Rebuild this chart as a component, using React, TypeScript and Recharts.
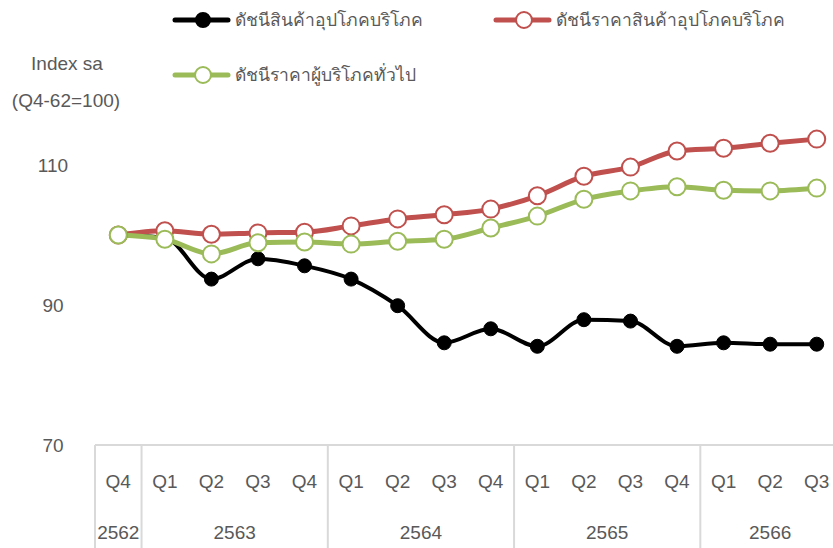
import React from 'react';
import { LineChart, Line, XAxis, YAxis } from 'recharts';

// quarter labels and the Buddhist-era year each one belongs to
const quarters = ['Q4', 'Q1', 'Q2', 'Q3', 'Q4', 'Q1', 'Q2', 'Q3', 'Q4', 'Q1', 'Q2', 'Q3', 'Q4', 'Q1', 'Q2', 'Q3'];
const years = ['2562', '2563', '2563', '2563', '2563', '2564', '2564', '2564', '2564', '2565', '2565', '2565', '2565', '2566', '2566', '2566'];

const consumerGoodsIndex = [100, 99.6, 93.7, 96.6, 95.6, 93.7, 89.9, 84.6, 86.6, 84.1, 87.9, 87.7, 84.1, 84.6, 84.4, 84.4];
const consumerGoodsPrice = [100, 100.6, 100.1, 100.3, 100.4, 101.3, 102.3, 102.9, 103.7, 105.6, 108.4, 109.7, 112.0, 112.4, 113.1, 113.7];
const generalCpi = [100, 99.4, 97.3, 98.9, 99.0, 98.7, 99.1, 99.4, 101.0, 102.7, 105.1, 106.3, 106.9, 106.4, 106.3, 106.7];

const seriesNames = ['ดัชนีสินค้าอุปโภคบริโภค', 'ดัชนีราคาสินค้าอุปโภคบริโภค', 'ดัชนีราคาผู้บริโภคทั่วไป'];
const yTicks = [70, 90, 110];

const data = quarters.map((q, i) => ({
  key: `${years[i]}-${q}`,
  idx: i,
  black: consumerGoodsIndex[i],
  red: consumerGoodsPrice[i],
  green: generalCpi[i],
}));

const FONT = 'Helvetica, Arial, "Liberation Sans", sans-serif';
const TEXT = '#595959';
const GRID = '#D9D9D9';
const PLOT_LEFT = 95;
const PLOT_WIDTH = 745;
const PLOT_BOTTOM = 445;
const STEP = PLOT_WIDTH / quarters.length;

const XTick = (props: any) => {
  const { x, payload } = props;
  const i = payload.index;
  const yr = years[i];
  const isStart = i === 0 || years[i - 1] !== yr;
  let count = 0;
  if (isStart) {
    while (years[i + count] === yr) count++;
  }
  return (
    <g>
      <text x={x} y={488} textAnchor="middle" fill={TEXT} fontSize={19} fontFamily={FONT}>
        {quarters[i]}
      </text>
      {isStart && (
        <>
          <line x1={x - STEP / 2} x2={x - STEP / 2} y1={PLOT_BOTTOM} y2={548} stroke={GRID} strokeWidth={2} />
          <text x={x + ((count - 1) * STEP) / 2} y={539} textAnchor="middle" fill={TEXT} fontSize={19} fontFamily={FONT}>
            {yr}
          </text>
        </>
      )}
    </g>
  );
};

const YTick = (props: any) => {
  const { y, payload } = props;
  return (
    <text x={53} y={y + 7} textAnchor="middle" fill={TEXT} fontSize={19} fontFamily={FONT}>
      {payload.value}
    </text>
  );
};

const legendItems = [
  { name: seriesNames[0], color: '#000000', filled: true, x: 175, y: 20 },
  { name: seriesNames[1], color: '#C0504D', filled: false, x: 496, y: 20 },
  { name: seriesNames[2], color: '#9BBB59', filled: false, x: 175, y: 75 },
];

export default function App() {
  return (
    <div style={{ position: 'absolute', left: 0, top: 0, width: 833, height: 548, overflow: 'hidden', background: '#fff' }}>
      <LineChart
        width={PLOT_LEFT + PLOT_WIDTH}
        height={548}
        data={data}
        margin={{ top: 25, right: 0, bottom: 0, left: 0 }}
      >
        <XAxis
          dataKey="idx"
          type="category"
          height={103}
          padding={{ left: STEP / 2, right: STEP / 2 }}
          axisLine={{ stroke: GRID, strokeWidth: 2 }}
          tickLine={false}
          interval={0}
          tick={<XTick />}
        />
        <YAxis
          domain={[70, 130]}
          ticks={yTicks}
          width={PLOT_LEFT}
          axisLine={false}
          tickLine={false}
          tick={<YTick />}
        />
        <Line
          dataKey="black"
          type="monotone"
          stroke="#000000"
          strokeWidth={4}
          dot={{ r: 7, fill: '#000', stroke: '#000', strokeWidth: 1 }}
          isAnimationActive={false}
        />
        <Line
          dataKey="red"
          type="monotone"
          stroke="#C0504D"
          strokeWidth={5}
          dot={{ r: 8.5, fill: '#fff', stroke: '#C0504D', strokeWidth: 2 }}
          isAnimationActive={false}
        />
        <Line
          dataKey="green"
          type="monotone"
          stroke="#9BBB59"
          strokeWidth={5}
          dot={{ r: 8.5, fill: '#fff', stroke: '#9BBB59', strokeWidth: 2 }}
          isAnimationActive={false}
        />
      </LineChart>
      <svg width={833} height={120} style={{ position: 'absolute', left: 0, top: 0, pointerEvents: 'none' }}>
        {legendItems.map((it) => (
          <g key={it.name}>
            <line x1={it.x} x2={it.x + 53} y1={it.y} y2={it.y} stroke={it.color} strokeWidth={5} strokeLinecap="round" />
            <circle
              cx={it.x + 28}
              cy={it.y}
              r={it.filled ? 7 : 8}
              fill={it.filled ? it.color : '#fff'}
              stroke={it.color}
              strokeWidth={2}
            />
            <text x={it.x + 60} y={it.y + 6} fill={TEXT} fontSize={17.5} fontFamily={FONT}>
              {it.name}
            </text>
          </g>
        ))}
        <text x={67} y={70} textAnchor="middle" fill={TEXT} fontSize={19} fontFamily={FONT}>
          Index sa
        </text>
        <text x={66} y={107} textAnchor="middle" fill={TEXT} fontSize={19} fontFamily={FONT}>
          (Q4-62=100)
        </text>
      </svg>
    </div>
  );
}
